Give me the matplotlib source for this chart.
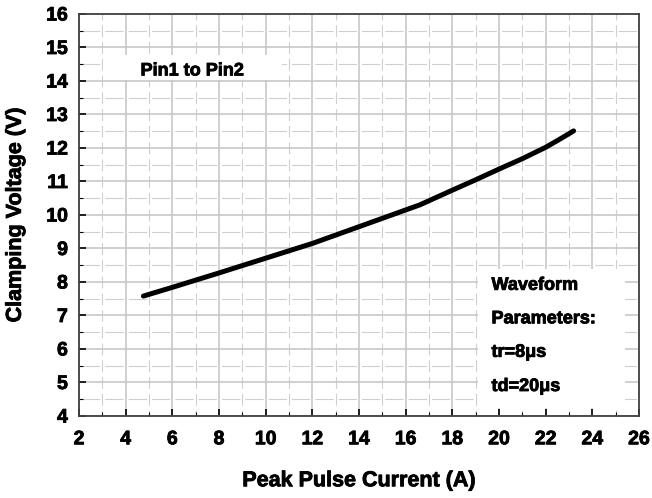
import matplotlib
matplotlib.use("Agg")
import matplotlib.pyplot as plt
import matplotlib.patheffects as pe
from matplotlib.patches import Rectangle
from matplotlib.ticker import MultipleLocator

plt.rcParams['font.family'] = ['Liberation Sans', 'DejaVu Sans']
plt.rcParams['font.weight'] = 'bold'
plt.rcParams['lines.scale_dashes'] = False

# data
current = [4.76, 6, 8, 10, 12, 14, 16, 16.6, 18, 19, 20, 21, 22, 22.6, 23.2]
voltage = [7.58, 7.84, 8.27, 8.71, 9.15, 9.65, 10.15, 10.3, 10.74, 11.05, 11.37, 11.68, 12.02, 12.26, 12.51]

x_ticks = list(range(2, 27, 2))
y_ticks = list(range(4, 17))
pin_label = "Pin1 to Pin2"
wave_lines = ["Waveform", "Parameters:", "tr=8\u03bcs", "td=20\u03bcs"]
wave_y = [7.9, 6.9, 5.9, 4.88]

# heavier text, like the original rendering
heavy = [pe.withStroke(linewidth=0.6, foreground='black')]

fig = plt.figure(figsize=(6.52, 4.98), dpi=100)
ax = fig.add_subplot(111)
fig.subplots_adjust(left=0.1212, right=0.980, top=0.9719, bottom=0.1647)

ax.set_xlim(2, 26)
ax.set_ylim(4, 16)
ax.set_xticks(x_ticks)
ax.set_yticks(y_ticks)
ax.xaxis.set_minor_locator(MultipleLocator(1))
ax.yaxis.set_minor_locator(MultipleLocator(0.5))

ax.set_axisbelow(True)
ax.grid(which='major', color='#c8c8c8', linewidth=1.2)
# minor grid is broken at the crossings
ax.yaxis.grid(which='minor', color='#cfcfcf', linewidth=0.8, linestyle=(15.0, (13.2, 3.6)))
ax.xaxis.grid(which='minor', color='#cfcfcf', linewidth=0.8, linestyle=(4.23, (8.46, 3.6)))

ax.tick_params(which='major', direction='in', length=5, width=1.2, colors='black', labelsize=14)
ax.tick_params(which='minor', direction='in', length=3, width=0.8, colors='black')
ax.tick_params(axis='y', which='major', pad=8)
ax.tick_params(axis='x', which='major', pad=11)

for s in ax.spines.values():
    s.set_color('#404040')
    s.set_linewidth(1.3)

ax.plot(current, voltage, color='black', linewidth=3.6, solid_capstyle='round',
        solid_joinstyle='round', zorder=4)

ax.add_patch(Rectangle((3.03, 14.03), 7.67, 0.75, facecolor='white', edgecolor='none', zorder=1))
ax.text(6.85, 14.3, pin_label, fontsize=13, fontweight='bold', ha='center', va='center',
        zorder=3, path_effects=heavy)

ax.add_patch(Rectangle((19.1, 4.25), 6.3, 4.15, facecolor='white', edgecolor='none', zorder=1))
for txt, yy in zip(wave_lines, wave_y):
    ax.text(19.68, yy, txt, fontsize=13, fontweight='bold', ha='left', va='center',
            zorder=3, path_effects=heavy)

ax.set_xlabel("Peak Pulse Current (A)", fontsize=15.5, fontweight='bold', path_effects=heavy)
ax.set_ylabel("Clamping Voltage (V)", fontsize=15.5, fontweight='bold', path_effects=heavy)
ax.xaxis.set_label_coords(0.5, -0.135)
ax.yaxis.set_label_coords(-0.095, 0.5)

fig.canvas.draw()
for lab in ax.get_xticklabels() + ax.get_yticklabels():
    lab.set_fontweight('bold')
    lab.set_path_effects(heavy)

fig.savefig("out.png", dpi=100)
